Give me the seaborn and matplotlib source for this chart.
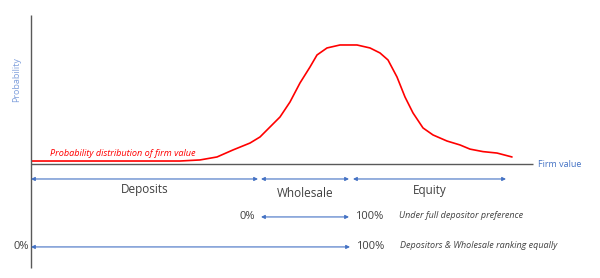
import matplotlib
matplotlib.use("Agg")
import matplotlib.pyplot as plt
import seaborn as sns
import pandas as pd

# ---- data ----
firm_value = [0.2, 25.8, 29.8, 33.8, 37.2, 40.4, 43.8, 45.8, 47.8, 49.8, 51.8,
              53.8, 55.8, 57.2, 59.2, 61.8, 65.2, 67.8, 69.8, 71.4, 73.2,
              74.8, 76.4, 78.4, 80.4, 83.2, 85.8, 87.8, 90.4, 93.2, 96.2]
probability = [0.025, 0.025, 0.025, 0.034, 0.059, 0.118, 0.176, 0.227, 0.311, 0.395, 0.521,
               0.681, 0.815, 0.916, 0.975, 1.0, 1.0, 0.975, 0.933, 0.874, 0.731,
               0.563, 0.429, 0.303, 0.244, 0.193, 0.160, 0.125, 0.104, 0.092, 0.059]

tranche_names = ["Deposits", "Wholesale", "Equity"]
tranche_start = [0.0, 46.0, 64.4]
tranche_end = [45.4, 63.6, 95.0]

scenario_labels = ["Under full depositor preference", "Depositors & Wholesale ranking equally"]
scenario_start = [46.0, 0.0]
scenario_end = [63.6, 63.8]
scenario_low = ["0%", "0%"]
scenario_high = ["100%", "100%"]

curve_label = "Probability distribution of firm value"
x_label = "Firm value"
y_label = "Probability"

# ---- style ----
sns.set_style("white")
plt.rcParams["font.family"] = ["Open Sans", "DejaVu Sans"]

BLUE = "#4472C4"
GREY = "#404040"
AXIS = "#595959"
RED = "#FF0000"

fig = plt.figure(figsize=(6.0, 2.78), dpi=100)
ax = fig.add_axes([0, 0, 1, 1])
ax.set_xlim(-6.2, 113.8)
ax.set_ylim(-0.958, 1.378)
ax.axis("off")

df = pd.DataFrame({"x": firm_value, "y": probability})
line_ax = sns.lineplot(data=df, x="x", y="y", ax=ax, color=RED, lw=1.2, sort=False)
for ln in line_ax.get_lines():
    ln.set_solid_joinstyle("round")
    ln.set_solid_capstyle("round")

# axes lines
ax.plot([0, 0], [-0.874, 1.252], color=AXIS, lw=1.0, solid_capstyle="butt")
ax.plot([0, 100.4], [0, 0], color=AXIS, lw=1.0, solid_capstyle="butt")
ax.text(101.4, -0.005, x_label, color=BLUE, fontsize=6.5, va="center", ha="left")
ax.text(-2.8, 0.71, y_label, color="#7F9FDC", fontsize=6.5, rotation=90,
        va="center", ha="center")

ax.text(3.8, 0.09, curve_label, color=RED, fontsize=6.6, style="italic",
        va="center", ha="left")

arrow_kw = dict(arrowstyle="<|-|>", color=BLUE, lw=0.8, mutation_scale=5.5,
                shrinkA=0, shrinkB=0)

row1 = -0.126
label_offsets = [-0.09, -0.12, -0.095]
for name, s, e, off in zip(tranche_names, tranche_start, tranche_end, label_offsets):
    ax.annotate("", xy=(e, row1), xytext=(s, row1), arrowprops=arrow_kw)
    ax.text((s + e) / 2, row1 + off, name, color=GREY, fontsize=8.5,
            va="center", ha="center")

rows = [-0.445, -0.697]
low_gap = [1.2, 0.5]
for lab, s, e, lo, hi, r, g in zip(scenario_labels, scenario_start, scenario_end,
                                   scenario_low, scenario_high, rows, low_gap):
    ax.annotate("", xy=(e, r), xytext=(s, r), arrowprops=arrow_kw)
    ax.text(s - g, r, lo, color=GREY, fontsize=8, va="center", ha="right")
    ax.text(e + 1.2, r, hi, color=GREY, fontsize=8, va="center", ha="left")
    ax.text(e + 10.0, r + 0.015, lab, color=GREY, fontsize=6.5, style="italic",
            va="center", ha="left")

fig.savefig("out.png", dpi=100)
